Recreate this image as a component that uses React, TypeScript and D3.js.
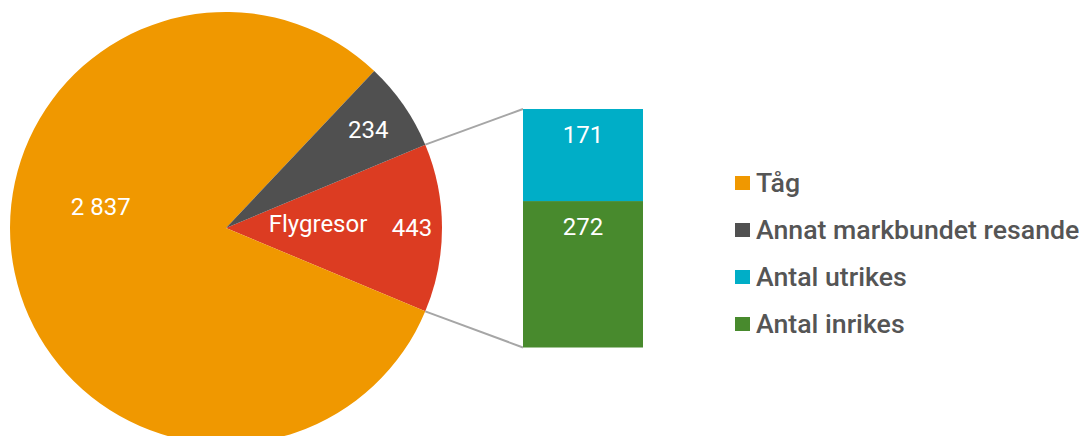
import React from "react";
import * as d3 from "d3";

const pieCategories = ["Flygresor", "Tåg", "Annat markbundet resande"];
const pieValues = [443, 2837, 234];
const pieColors = ["#DC3C22", "#F09800", "#505050"];

const barCategories = ["Antal inrikes", "Antal utrikes"];
const barValues = [272, 171];
const barColors = ["#488A2D", "#00AEC7"];

const legendLabels = ["Tåg", "Annat markbundet resande", "Antal utrikes", "Antal inrikes"];
const legendColors = ["#F09800", "#505050", "#00AEC7", "#488A2D"];

const fmt = (v: number) => d3.format(",")(v).replace(/,/g, " ");

export default function App() {
  const W = 1083, H = 436;
  const cx = 226, cy = 228, R = 216;
  const total = d3.sum(pieValues);
  const redAngle = (pieValues[0] / total) * 2 * Math.PI;
  const start = Math.PI / 2 - redAngle / 2;
  const pie = d3.pie<number>().sort(null).value(d => d).startAngle(start).endAngle(start + 2 * Math.PI);
  const arcs = pie(pieValues);
  const arcGen = d3.arc<d3.PieArcDatum<number>>().innerRadius(0).outerRadius(R);

  // bar
  const bx0 = 523, bx1 = 643;
  const barTotal = d3.sum(barValues);
  const y = d3.scaleLinear().domain([0, barTotal]).range([347.5, 109]);
  let acc = 0;
  const bars = barValues.map((v, i) => {
    const b = { y0: acc, y1: acc + v, v, i };
    acc += v;
    return b;
  });

  const redArc = arcs[0];
  const pt = (a: number, r: number) => [cx + r * Math.sin(a), cy - r * Math.cos(a)];
  const [tx, ty] = pt(redArc.startAngle, R);
  const [lx, ly] = pt(redArc.endAngle, R);

  const labelPolar = (d: d3.PieArcDatum<number>, i: number) => {
    const mid = (d.startAngle + d.endAngle) / 2;
    if (i === 1) return pt((279.5 * Math.PI) / 180, 127);
    if (i === 2) return pt(mid, 173);
    return pt(mid, 186);
  };

  return (
    <svg width={W} height={H} style={{ position: "absolute", left: 0, top: 0 }} fontFamily="Roboto, sans-serif">
      <rect width={W} height={H} fill="#fff" />
      <g transform={`translate(${cx},${cy})`}>
        {arcs.map((d, i) => (
          <path key={i} d={arcGen(d) || ""} fill={pieColors[i]} />
        ))}
      </g>
      {arcs.map((d, i) => {
        const [x, yy] = labelPolar(d, i);
        return (
          <text key={i} x={x} y={yy + 8} textAnchor="middle" fill="#fff" fontSize={24}>
            {fmt(d.value)}
          </text>
        );
      })}
      <text x={318} y={cy + 4} textAnchor="middle" fill="#fff" fontSize={24}>
        {pieCategories[0]}
      </text>
      <line x1={tx} y1={ty} x2={bx0} y2={y(barTotal)} stroke="#A6A6A6" strokeWidth={2} />
      <line x1={lx} y1={ly} x2={bx0} y2={y(0)} stroke="#A6A6A6" strokeWidth={2} />
      {bars.map(b => (
        <g key={b.i}>
          <rect x={bx0} y={y(b.y1)} width={bx1 - bx0} height={y(b.y0) - y(b.y1)} fill={barColors[b.i]} />
          <text x={(bx0 + bx1) / 2} y={y(b.y1) + 34} textAnchor="middle" fill="#fff" fontSize={24}>
            {fmt(b.v)}
          </text>
        </g>
      ))}
      {legendLabels.map((l, i) => (
        <g key={l} transform={`translate(735,${183 + i * 47})`}>
          <rect x={0} y={-7} width={15} height={14} fill={legendColors[i]} />
          <text x={21} y={9} fill="#555" fontSize={26.7} fontWeight={500}>
            {l}
          </text>
        </g>
      ))}
    </svg>
  );
}
